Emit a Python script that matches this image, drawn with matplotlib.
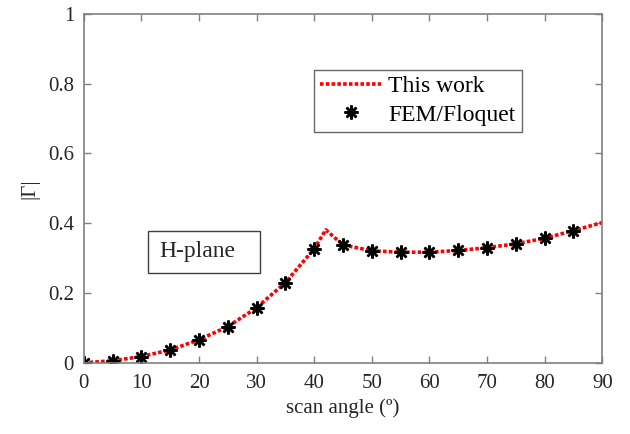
import matplotlib.pyplot as plt
from matplotlib.patches import Rectangle

plt.rcParams['font.family'] = ['Liberation Serif', 'DejaVu Serif']

# "This work" curve
line_x = [0, 5, 10, 15, 20, 25, 30, 35, 40, 42, 45, 50, 55, 60, 65, 70, 75, 80, 85, 90]
line_y = [0.0, 0.006, 0.018, 0.037, 0.066, 0.104, 0.158, 0.23, 0.327, 0.381,
          0.338, 0.321, 0.317, 0.317, 0.322, 0.330, 0.341, 0.357, 0.379, 0.402]

# FEM/Floquet points
fem_x = [0, 5, 10, 15, 20, 25, 30, 35, 40, 45, 50, 55, 60, 65, 70, 75, 80, 85]
fem_y = [0.0, 0.006, 0.018, 0.037, 0.066, 0.104, 0.158, 0.23, 0.327,
         0.338, 0.321, 0.317, 0.317, 0.322, 0.330, 0.341, 0.357, 0.379]

xticks = [0, 10, 20, 30, 40, 50, 60, 70, 80, 90]
yticks = [0, 0.2, 0.4, 0.6, 0.8, 1]
ytick_labels = ['0', '0.2', '0.4', '0.6', '0.8', '1']

fig = plt.figure(figsize=(6.3, 4.34), dpi=100)
ax = fig.add_axes([0.133, 0.164, 0.823, 0.804])

ax.plot(line_x, line_y, color='#ff0000', linestyle=(0, (1, 0.6)), linewidth=2.6,
        label='This work')
ax.plot(fem_x, fem_y, linestyle='none', marker=(8, 2, 0), markersize=10,
        markeredgewidth=1.8, color='black', label='FEM/Floquet')

ax.set_xlim(0, 90)
ax.set_ylim(0, 1)
ax.set_xticks(xticks)
ax.set_yticks(yticks)
ax.set_yticklabels(ytick_labels)
ax.tick_params(direction='in', top=True, right=True, length=5, width=1,
               color='#808080', labelsize=15, labelcolor='#262626')
ax.tick_params(axis='x', pad=8)
ax.tick_params(axis='y', pad=7)
for s in ax.spines.values():
    s.set_color('#808080')
    s.set_linewidth(1.2)

ax.set_xlabel('scan angle (º)', fontsize=15, color='#262626', labelpad=4)
ax.set_ylabel('|Γ|', fontsize=15, color='#262626', labelpad=6)

leg = ax.legend(loc='upper left', bbox_to_anchor=(0.444, 0.84), fontsize=17,
                frameon=True, fancybox=False, edgecolor='#404040',
                handlelength=2.6, borderpad=0.25, labelspacing=0.3, handletextpad=0.3,
                borderaxespad=0)
leg.get_frame().set_linewidth(1.0)

ax.add_patch(Rectangle((0.124, 0.258), 0.216, 0.12, transform=ax.transAxes,
                       fill=False, edgecolor='#404040', linewidth=1.0))
ax.text(0.146, 0.318, 'H-plane', transform=ax.transAxes, fontsize=17,
        va='center', ha='left', color='#262626')

fig.savefig('out.png', dpi=100)
